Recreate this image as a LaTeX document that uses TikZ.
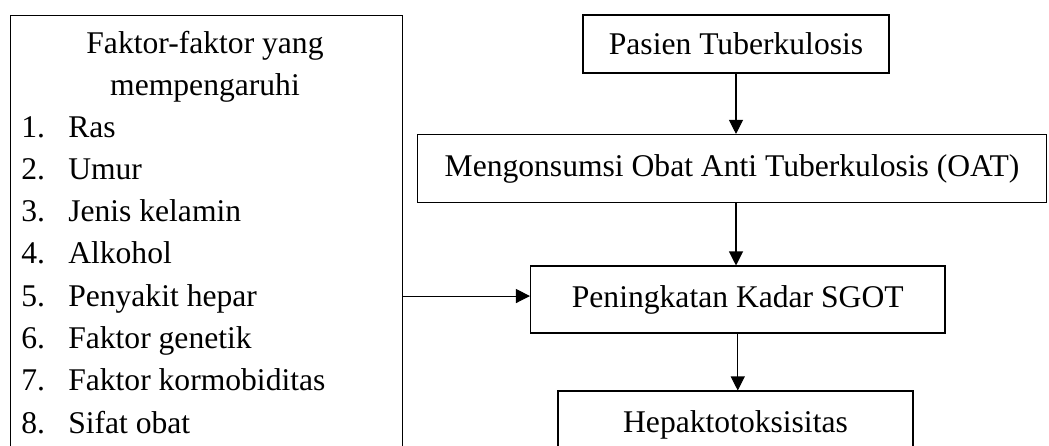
\documentclass[tikz,border=0pt]{standalone}
\usepackage{fontspec}
\setmainfont{Liberation Serif}
\usetikzlibrary{arrows.meta}
\begin{document}
\begin{tikzpicture}[x=0.75pt,y=-0.75pt,
  every node/.style={font=\fontsize{23.7pt}{31pt}\selectfont, inner sep=0pt},
  box/.style={draw, line width=0.8pt, rectangle},
  lbl/.style={anchor=base west},
  ctr/.style={anchor=base},
  arr/.style={line width=0.8pt, -{Triangle[length=10.5pt,width=10.5pt]}}]
\useasboundingbox (0,0) rectangle (1049,446);
\clip (0,0) rectangle (1049,446);
% left box
\node[box, anchor=north west, minimum width=294pt, minimum height=345pt] (fac) at (9.5,15) {};
\node[ctr] (h1) at (205,53) {Faktor-faktor yang};
\node[ctr] (h2) at (205,95.3) {mempengaruhi};
\foreach \i/\t in {1/Ras,2/Umur,3/Jenis kelamin,4/Alkohol,5/Penyakit hepar,6/Faktor genetik,7/Faktor kormobiditas,8/Sifat obat}{
  \node[lbl] (n\i) at (21,{137+(\i-1)*42.3}) {\i.};
  \node[lbl] (t\i) at (68,{137+(\i-1)*42.3}) {\t};
}
% right column
\node[box, minimum width=229.5pt, minimum height=43.5pt] (pas) at (736,44) {Pasien Tuberkulosis};
\node[box, minimum width=471.75pt, minimum height=51pt] (oat) at (732,168.5) {Mengonsumsi Obat Anti Tuberkulosis (OAT)};
\node[box, minimum width=310.9pt, minimum height=50.25pt] (sgot) at (737.75,299.5) {Peningkatan Kadar SGOT};
\node[box, minimum width=266.25pt, minimum height=50.25pt] (hep) at (735.5,424.5) {Hepaktotoksisitas};
\coordinate (ain) at ([yshift=2.6pt]sgot.west);
% connectors
\draw[arr] (pas.south) -- (pas.south |- oat.north);
\draw[arr] (oat.south -| pas.south) -- (sgot.north -| pas.south);
\draw[arr] (sgot.south) -- (sgot.south |- hep.north);
\draw[arr] (fac.east |- ain) -- (ain);
\end{tikzpicture}
\end{document}
